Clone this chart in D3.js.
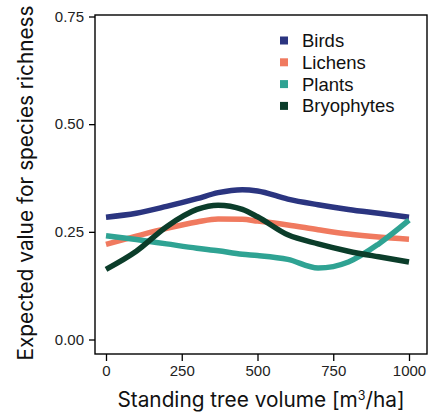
<!DOCTYPE html>
<html><head><meta charset="utf-8">
<script src="https://cdn.jsdelivr.net/npm/d3@7"></script>
<style>html,body{margin:0;padding:0;background:#fff;}</style>
</head><body>
<svg id="c" width="441" height="419"></svg>
<script>
const xValues = [0, 100, 200, 300, 370, 450, 500, 600, 700, 800, 900, 1000];
const birds = [0.284, 0.293, 0.309, 0.327, 0.341, 0.348, 0.345, 0.326, 0.313, 0.302, 0.293, 0.284];
const lichens = [0.221, 0.240, 0.258, 0.273, 0.280, 0.279, 0.275, 0.266, 0.255, 0.245, 0.238, 0.233];
const plants = [0.241, 0.232, 0.222, 0.212, 0.206, 0.198, 0.195, 0.186, 0.166, 0.180, 0.222, 0.277];
const bryophytes = [0.163, 0.205, 0.262, 0.302, 0.312, 0.302, 0.285, 0.243, 0.222, 0.205, 0.192, 0.180];
const seriesNames = ["Birds", "Lichens", "Plants", "Bryophytes"];
const seriesColors = ["#2b3580", "#f07a5f", "#2fa393", "#0b3d2a"];
const yTicks = [0, 0.25, 0.5, 0.75];
const xTicks = [0, 250, 500, 750, 1000];

const svg = d3.select("#c");
const box = {l: 95, t: 15, r: 427, b: 354};
const x = d3.scaleLinear().domain([0, 1000]).range([106, 409]);
const y = d3.scaleLinear().domain([0, 0.75]).range([339.5, 16.5]);

svg.append("rect").attr("x", box.l).attr("y", box.t).attr("width", box.r - box.l).attr("height", box.b - box.t)
  .attr("fill", "none").attr("stroke", "#000").attr("stroke-width", 1.4);

const allSeries = [birds, lichens, plants, bryophytes];
const line = d3.line().x((d, i) => x(xValues[i])).y(d => y(d)).curve(d3.curveMonotoneX);
allSeries.forEach((s, k) => {
  svg.append("path").datum(s).attr("d", line).attr("fill", "none")
    .attr("stroke", seriesColors[k]).attr("stroke-width", 5.5).attr("stroke-linecap", "butt");
});

const tickFont = "Liberation Sans, Arial, sans-serif";
const yAxis = d3.axisLeft(y).tickValues(yTicks).tickFormat(d3.format(".2f")).tickSize(6).tickPadding(5);
const gy = svg.append("g").attr("transform", `translate(${box.l},0)`).call(yAxis);
gy.select(".domain").remove();
gy.selectAll("line").attr("stroke-width", 1.3);
gy.selectAll("text").attr("font-family", tickFont).attr("font-size", 15).attr("fill", "#222");

const xAxis = d3.axisBottom(x).tickValues(xTicks).tickFormat(d3.format("d")).tickSize(7).tickPadding(4);
const gx = svg.append("g").attr("transform", `translate(0,${box.b})`).call(xAxis);
gx.select(".domain").remove();
gx.selectAll("line").attr("stroke-width", 1.3);
gx.selectAll("text").attr("font-family", tickFont).attr("font-size", 15).attr("fill", "#222");

const titleFont = "Inter, Open Sans, sans-serif";
const xt = svg.append("text").attr("x", 261).attr("y", 407).attr("text-anchor", "middle")
  .attr("font-family", titleFont).attr("font-size", 20.8).attr("fill", "#111");
xt.append("tspan").text("Standing tree volume [m");
xt.append("tspan").text("3").attr("font-size", 12.5).attr("dy", -7.5);
xt.append("tspan").text("/ha]").attr("dy", 7.5);

svg.append("text").attr("transform", "translate(33,183) rotate(-90)").attr("text-anchor", "middle")
  .attr("font-family", titleFont).attr("font-size", 20.8).attr("fill", "#111")
  .text("Expected value for species richness");

const leg = svg.append("g");
seriesNames.forEach((n, i) => {
  const yy = 40.5 + i * 21.8;
  leg.append("rect").attr("x", 280).attr("y", yy - 4).attr("width", 8).attr("height", 8).attr("fill", seriesColors[i]);
  leg.append("text").attr("x", 302).attr("y", yy + 6.5).attr("font-family", tickFont)
    .attr("font-size", 18.5).attr("fill", "#111").text(n);
});
</script>
</body></html>
